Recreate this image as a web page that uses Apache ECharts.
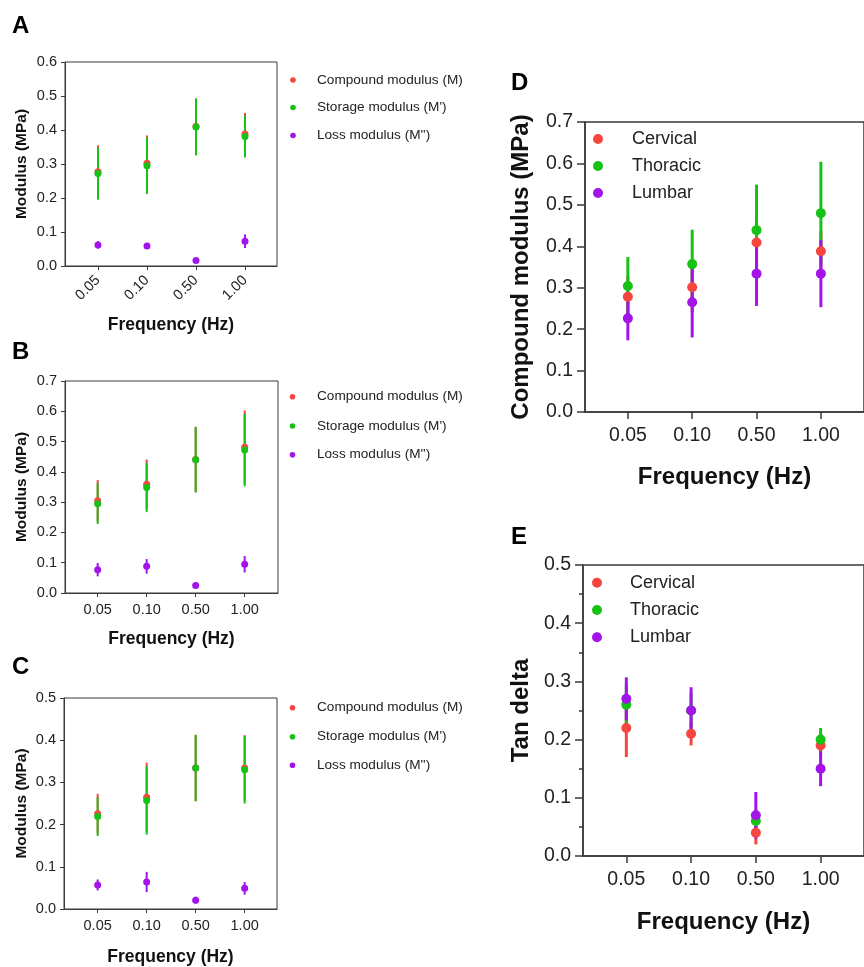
<!DOCTYPE html>
<html><head><meta charset="utf-8">
<script src="https://cdn.jsdelivr.net/npm/echarts@6/dist/echarts.min.js"></script>
<style>html,body{margin:0;padding:0;background:#fff}#c{width:864px;height:967px}</style>
</head><body><div id="c"></div>
<script>
// ---- data ----
const categories = ['0.05', '0.10', '0.50', '1.00'];
const catIndex = [0, 1, 2, 3];

const A_compound = [0.277, 0.302, 0.410, 0.388];
const A_compound_sd = [0.078, 0.082, 0.082, 0.062];
const A_storage = [0.272, 0.295, 0.409, 0.381];
const A_storage_sd = [0.077, 0.083, 0.084, 0.062];
const A_loss = [0.062, 0.059, 0.016, 0.073];
const A_loss_sd = [0.011, 0.009, 0.003, 0.020];

const B_compound = [0.305, 0.359, 0.441, 0.481];
const B_compound_sd = [0.068, 0.082, 0.108, 0.122];
const B_storage = [0.295, 0.348, 0.440, 0.472];
const B_storage_sd = [0.067, 0.081, 0.108, 0.120];
const B_loss = [0.077, 0.088, 0.025, 0.095];
const B_loss_sd = [0.022, 0.024, 0.009, 0.027];

const C_compound = [0.226, 0.265, 0.334, 0.334];
const C_compound_sd = [0.047, 0.082, 0.078, 0.078];
const C_storage = [0.219, 0.257, 0.334, 0.330];
const C_storage_sd = [0.046, 0.081, 0.079, 0.080];
const C_loss = [0.057, 0.064, 0.021, 0.049];
const C_loss_sd = [0.013, 0.024, 0.008, 0.015];

const D_cervical = [0.278, 0.301, 0.409, 0.388];
const D_cervical_sd = [0.050, 0.060, 0.060, 0.050];
const D_thoracic = [0.304, 0.357, 0.439, 0.480];
const D_thoracic_sd = [0.070, 0.083, 0.110, 0.124];
const D_lumbar = [0.226, 0.265, 0.334, 0.334];
const D_lumbar_sd = [0.053, 0.085, 0.078, 0.081];

const E_cervical = [0.22, 0.21, 0.04, 0.19];
const E_cervical_sd = [0.05, 0.02, 0.02, 0.02];
const E_thoracic = [0.26, 0.25, 0.06, 0.20];
const E_thoracic_sd = [0.035, 0.03, 0.02, 0.02];
const E_lumbar = [0.27, 0.25, 0.07, 0.15];
const E_lumbar_sd = [0.037, 0.04, 0.04, 0.03];

const modNames = ['Compound modulus (M)', "Storage modulus (M')", "Loss modulus (M'')"];
const regionNames = ['Cervical', 'Thoracic', 'Lumbar'];
const panelLetters = ['A', 'B', 'C', 'D', 'E'];

// ---- styles ----
const FONT = '"Liberation Sans", Arial, Helvetica, sans-serif';
const RED = '#f7453f', GREEN = '#16c216', PURPLE = '#a214ea';
const AX = '#3a3a3a';
const colors = [RED, GREEN, PURPLE];

const chart = echarts.init(document.getElementById('c'), null, {renderer: 'canvas'});

function xAxisDef(gi, small, rotate, nameGap, min, max) {
  return {
    type: 'value', gridIndex: gi, min: min, max: max,
    name: 'Frequency (Hz)', nameLocation: 'middle', nameGap: nameGap,
    nameTextStyle: {fontFamily: FONT, fontWeight: 'bold', fontSize: small ? 17.5 : 24, color: '#111'},
    axisLine: {show: true, onZero: false, lineStyle: {color: AX, width: small ? 1 : 1.5}},
    axisTick: {show: true, customValues: catIndex, length: small ? 4 : 7, lineStyle: {color: AX, width: small ? 1 : 1.5}},
    axisLabel: {customValues: catIndex, formatter: v => categories[Math.round(v)], rotate: rotate,
      margin: small ? (rotate ? 12 : 9) : 14, fontFamily: FONT, fontSize: small ? 14.5 : 19.5, color: '#222'},
    splitLine: {show: false}
  };
}
function yAxisDef(gi, small, max, name, nameGap, minor) {
  return {
    type: 'value', gridIndex: gi, min: 0, max: max, interval: 0.1,
    name: name, nameLocation: 'middle', nameGap: nameGap,
    nameTextStyle: {fontFamily: FONT, fontWeight: 'bold', fontSize: small ? 15.5 : 24, color: '#111'},
    axisLine: {show: true, onZero: false, lineStyle: {color: AX, width: small ? 1 : 1.5}},
    axisTick: {show: true, length: small ? 4 : 8, lineStyle: {color: AX, width: small ? 1 : 1.5}},
    minorTick: {show: !!minor, splitNumber: 2, length: 4, lineStyle: {color: AX, width: 1.5}},
    axisLabel: {formatter: v => v.toFixed(1), margin: small ? 8 : 12, fontFamily: FONT, fontSize: small ? 14.5 : 19.5, color: '#222'},
    splitLine: {show: false}
  };
}
function errSeries(name, ai, means, sds, color, width) {
  return {
    type: 'custom', name: name + ' SD', xAxisIndex: ai, yAxisIndex: ai, silent: true, z: 1,
    data: means.map((m, i) => [catIndex[i], m - sds[i], m + sds[i]]),
    encode: {x: 0, y: [1, 2]},
    renderItem: (params, api) => {
      const p1 = api.coord([api.value(0), api.value(1)]);
      const p2 = api.coord([api.value(0), api.value(2)]);
      return {type: 'line', shape: {x1: p1[0], y1: p1[1], x2: p2[0], y2: p2[1]}, style: {stroke: color, lineWidth: width}};
    }
  };
}
function dotSeries(name, ai, means, color, size) {
  return {
    type: 'scatter', name: name, xAxisIndex: ai, yAxisIndex: ai, z: 3,
    symbol: 'circle', symbolSize: size, itemStyle: {color: color, opacity: 1},
    data: means.map((m, i) => [catIndex[i], m])
  };
}

const panels = [
  {names: modNames, vals: [[A_compound, A_compound_sd], [A_storage, A_storage_sd], [A_loss, A_loss_sd]], small: true},
  {names: modNames, vals: [[B_compound, B_compound_sd], [B_storage, B_storage_sd], [B_loss, B_loss_sd]], small: true},
  {names: modNames, vals: [[C_compound, C_compound_sd], [C_storage, C_storage_sd], [C_loss, C_loss_sd]], small: true},
  {names: regionNames, vals: [[D_cervical, D_cervical_sd], [D_thoracic, D_thoracic_sd], [D_lumbar, D_lumbar_sd]], small: false},
  {names: regionNames, vals: [[E_cervical, E_cervical_sd], [E_thoracic, E_thoracic_sd], [E_lumbar, E_lumbar_sd]], small: false}
];

const series = [];
panels.forEach((p, ai) => {
  p.vals.forEach((v, k) => series.push(errSeries(p.names[k], ai, v[0], v[1], colors[k], p.small ? 2 : 3)));
  p.vals.forEach((v, k) => series.push(dotSeries(p.names[k], ai, v[0], colors[k], p.small ? 7 : 10)));
});

const gridStyle = (small) => ({show: true, borderColor: AX, borderWidth: small ? 1 : 1.5, backgroundColor: 'transparent', containLabel: false});

// legend keys drawn as graphic groups (dot + real text)
function legendGraphic(names, dotX, textX, rowsY, small) {
  const children = [];
  names.forEach((n, k) => {
    children.push({type: 'circle', shape: {cx: dotX, cy: rowsY[k], r: small ? 2.8 : 5}, style: {fill: colors[k]}});
    children.push({type: 'text', style: {text: n, x: textX, y: rowsY[k], verticalAlign: 'middle', align: 'left',
      font: (small ? '13.6px ' : '18px ') + FONT, fill: '#222'}});
  });
  return {type: 'group', children: children};
}
const letterPos = [[12, 14], [12, 340], [12, 655], [511, 71], [511, 525]];

const option = {
  animation: false,
  backgroundColor: '#fff',
  grid: [
    Object.assign({left: 65, top: 62, width: 212, height: 204}, gridStyle(true)),
    Object.assign({left: 65, top: 381, width: 213, height: 212}, gridStyle(true)),
    Object.assign({left: 64, top: 698, width: 213, height: 213}, gridStyle(true)),
    Object.assign({left: 585, top: 122, width: 291, height: 290}, gridStyle(false)),
    Object.assign({left: 583, top: 565, width: 292, height: 291}, gridStyle(false))
  ],
  xAxis: [
    xAxisDef(0, true, 45, 50, -0.673, 3.653),
    xAxisDef(1, true, 0, 37, -0.667, 3.68),
    xAxisDef(2, true, 0, 39, -0.687, 3.66),
    xAxisDef(3, false, 0, 53, -0.666, 3.67),
    xAxisDef(4, false, 0, 54, -0.669, 3.67)
  ],
  yAxis: [
    yAxisDef(0, true, 0.6, 'Modulus (MPa)', 35),
    yAxisDef(1, true, 0.7, 'Modulus (MPa)', 35),
    yAxisDef(2, true, 0.5, 'Modulus (MPa)', 34),
    yAxisDef(3, false, 0.7, 'Compound modulus (MPa)', 52),
    yAxisDef(4, false, 0.5, 'Tan delta', 50, true)
  ],
  graphic: [
    legendGraphic(modNames, 293, 317, [80, 107.5, 135.5], true),
    legendGraphic(modNames, 292.5, 317, [396.7, 426, 454.7], true),
    legendGraphic(modNames, 292.5, 317, [707.7, 736.7, 765.3], true),
    legendGraphic(regionNames, 598, 632, [139, 166, 193], false),
    legendGraphic(regionNames, 597, 630, [582.7, 610, 637.3], false)
  ].concat(panelLetters.map((t, i) => ({type: 'text', left: letterPos[i][0], top: letterPos[i][1],
    style: {text: t, font: 'bold 24px ' + FONT, fill: '#000'}}))),
  series: series
};
chart.setOption(option);
</script></body></html>
